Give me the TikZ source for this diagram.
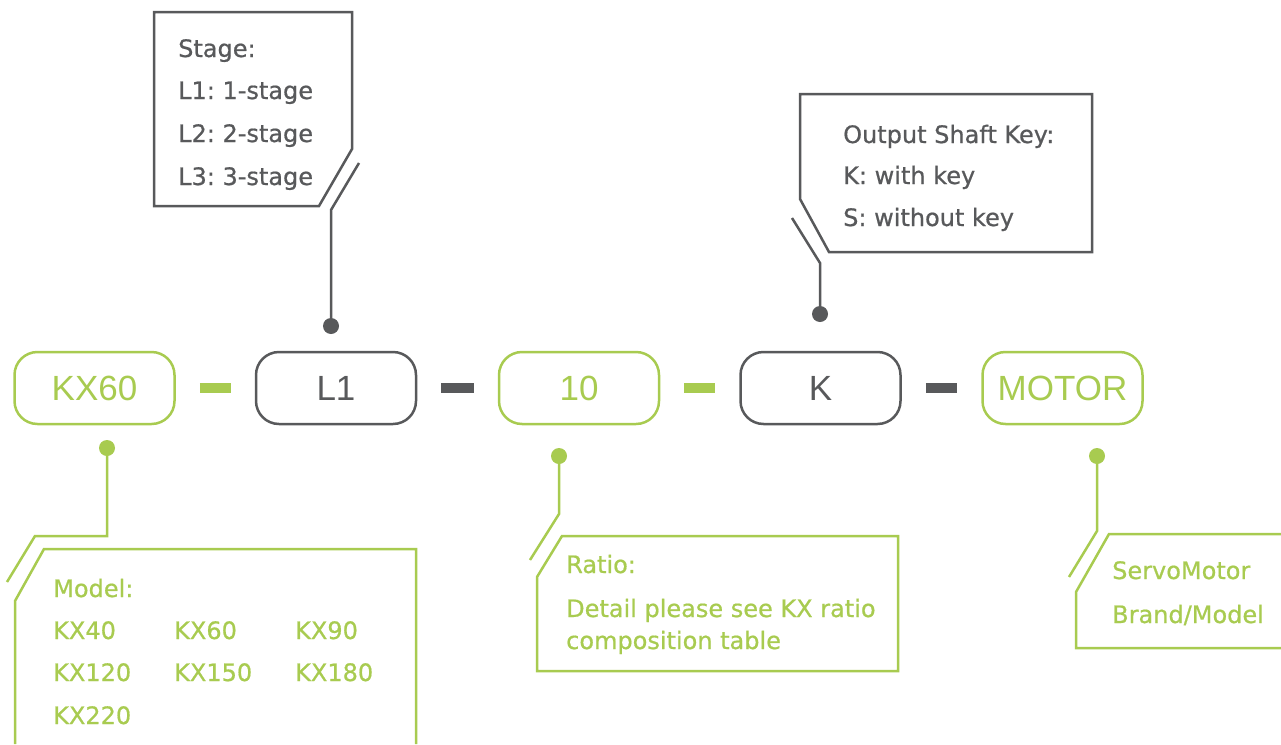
\documentclass[tikz,border=0pt]{standalone}
\usepackage{fontspec}
\setmainfont[BoldFont=DejaVu Sans, BoldFeatures={FakeBold=0.7}]{DejaVu Sans}
\newfontfamily\rowfont{Liberation Sans}
\definecolor{kgreen}{RGB}{168,203,80}
\definecolor{kgray}{RGB}{88,89,91}
\tikzset{
  rowbox/.style={draw, line width=2.5pt, rounded corners=23pt, minimum width=160pt, minimum height=72pt, inner sep=0pt, font=\rowfont\fontsize{35}{35}\selectfont},
  gbox/.style={rowbox, draw=kgreen, text=kgreen},
  kbox/.style={rowbox, draw=kgray, text=kgray},
  sepg/.style={draw=kgreen, line width=10pt, shorten <=24pt, shorten >=24pt},
  sepk/.style={draw=kgray, line width=10pt, shorten <=24pt, shorten >=24pt},
  callg/.style={draw=kgreen, line width=2.5pt, line join=miter},
  callk/.style={draw=kgray, line width=2.5pt, line join=miter},
  txt/.style={anchor=base west, inner sep=0pt, font=\bfseries\fontsize{24}{24}\selectfont},
  txtg/.style={txt, text=kgreen},
  txtk/.style={txt, text=kgray},
  dotg/.style={circle, fill=kgreen, inner sep=0pt, minimum size=16pt},
  dotk/.style={circle, fill=kgray, inner sep=0pt, minimum size=16pt},
}
\begin{document}
\begin{tikzpicture}[x=1pt,y=-1pt]
\useasboundingbox (0,0) rectangle (1281,744);

% main row
\node[gbox] (kx) at (94.5,388) {KX60};
\node[kbox] (l1) at (336,388) {L1};
\node[gbox] (ra) at (579,388) {10};
\node[kbox] (k)  at (820.5,388) {K};
\node[gbox] (mo) at (1062.5,388) {MOTOR};
\draw[sepg] (kx) -- (l1);
\draw[sepk] (l1) -- (ra);
\draw[sepg] (ra) -- (k);
\draw[sepk] (k) -- (mo);

% Stage callout
\draw[callk] (154,12) -- (352,12) -- (352,149) -- (319,206) -- (154,206) -- cycle;
\node[dotk] (ds) at (331,326) {};
\coordinate (s1) at (359,163);
\coordinate (s2) at (331,210);
\draw[callk] (s1) -- (s2) -- (ds.center);
\node[txtk] (st0) at (178,57) {Stage:};
\node[txtk] (st1) at (178,99) {L1:\ 1-stage};
\node[txtk] (st2) at (178,142) {L2:\ 2-stage};
\node[txtk] (st3) at (178,185) {L3:\ 3-stage};

% Output shaft key callout
\draw[callk] (800,94) -- (1092,94) -- (1092,252) -- (829,252) -- (800,199) -- cycle;
\node[dotk] (dk) at (820,314) {};
\coordinate (o1) at (792,218);
\coordinate (o2) at (820,263);
\draw[callk] (o1) -- (o2) -- (dk.center);
\node[txtk] (ok0) at (843,143) {Output Shaft Key:};
\node[txtk] (ok1) at (843,184) {K: with key};
\node[txtk] (ok2) at (843,226) {S: without key};

% Model callout
\draw[callg] (416,744) -- (416,549) -- (44,549) -- (15,601) -- (15,744);
\node[dotg] (dm) at (107,448) {};
\coordinate (m1) at (107,536);
\coordinate (m2) at (35,536);
\coordinate (m3) at (7,582);
\draw[callg] (dm.center) -- (m1) -- (m2) -- (m3);
\node[txtg] (md0) at (53,597) {Model:};
\node[txtg] (md1) at (53,639) {KX40};
\node[txtg] (md2) at (174,639) {KX60};
\node[txtg] (md3) at (295,639) {KX90};
\node[txtg] (md4) at (53,681) {KX120};
\node[txtg] (md5) at (174,681) {KX150};
\node[txtg] (md6) at (295,681) {KX180};
\node[txtg] (md7) at (53,724) {KX220};

% Ratio callout
\draw[callg] (562,536) -- (898,536) -- (898,671) -- (537,671) -- (537,577) -- cycle;
\node[dotg] (dr) at (559,456) {};
\coordinate (r1) at (559,514);
\coordinate (r2) at (530,560);
\draw[callg] (dr.center) -- (r1) -- (r2);
\node[txtg] (rt0) at (566,573) {Ratio:};
\node[txtg] (rt1) at (566,617) {Detail please see KX ratio};
\node[txtg] (rt2) at (566,649) {composition table};

% Servo motor callout
\draw[callg] (1284,534) -- (1109,534) -- (1076,592) -- (1076,648) -- (1284,648);
\node[dotg] (dv) at (1097,456) {};
\coordinate (v1) at (1097,531);
\coordinate (v2) at (1069,577);
\draw[callg] (dv.center) -- (v1) -- (v2);
\node[txtg] (sv0) at (1112,579) {ServoMotor};
\node[txtg] (sv1) at (1112,623) {Brand/Model};
\end{tikzpicture}
\end{document}
